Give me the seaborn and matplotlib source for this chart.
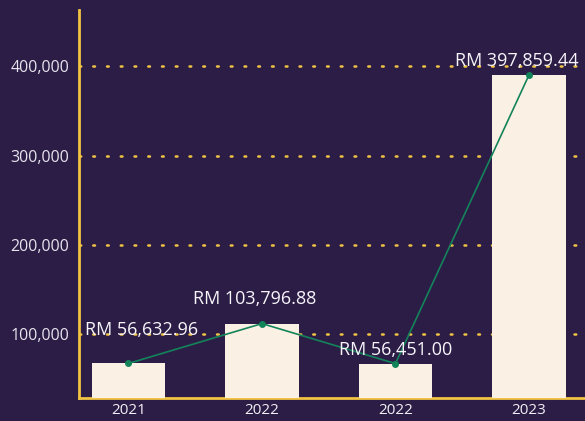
import matplotlib
matplotlib.use("Agg")
import matplotlib.pyplot as plt
import seaborn as sns
import pandas as pd

# values shown on the chart
years = ["2021", "2022", "2022", "2023"]
amounts = [56632.96, 103796.88, 56451.00, 397859.44]
labels = ["RM 56,632.96", "RM 103,796.88", "RM 56,451.00", "RM 397,859.44"]
yticks = [100000, 200000, 300000, 400000]

bg = "#2c1d47"
cream = "#fbf0e4"
green = "#13845a"
gold = "#f2c443"
txt = "#e6e3ec"

sns.set_style("white")
plt.rcParams["font.family"] = ["Open Sans", "DejaVu Sans"]

df = pd.DataFrame({"idx": range(len(amounts)), "amount": amounts})

fig = plt.figure(figsize=(5.85, 4.21), dpi=100, facecolor=bg)
ax = fig.add_axes([0.135, 0.055, 0.865, 0.921])
ax.set_facecolor(bg)

# left axis holds the ticks and dotted grid
ax.set_ylim(28700, 462800)
ax.set_yticks(yticks)
ax.set_yticklabels([f"{v:,}" for v in yticks], color=txt, fontsize=11.5)
for v in yticks:
    ax.axhline(v, color=gold, lw=1.8, ls=(0, (0.7, 4.8)), dash_capstyle="round", zorder=0)
ax.tick_params(axis="y", length=0, pad=7)
for s in ["top", "right"]:
    ax.spines[s].set_visible(False)
for s in ["left", "bottom"]:
    ax.spines[s].set_color(gold)
    ax.spines[s].set_linewidth(2)

# data axis
ax2 = ax.twinx()
ax2.patch.set_visible(False)
sns.barplot(data=df, x="idx", y="amount", color=cream, width=0.55,
            saturation=1, linewidth=0, ax=ax2, zorder=2)
sns.lineplot(x=df["idx"], y=df["amount"], color=green, lw=1.2, marker="o",
             markersize=5, markeredgewidth=0, ax=ax2, zorder=3)
ax2.set_ylim(15917, 474787)
ax2.set_xlim(-0.371, 3.42)
ax2.set_yticks([])
ax2.set_ylabel("")
ax2.set_xlabel("")
for s in ax2.spines.values():
    s.set_visible(False)

ax.set_xlim(-0.371, 3.42)
ax.set_xticks(range(len(years)))
ax.set_xticklabels(years, color="#f2f0f5", fontsize=11)
ax.tick_params(axis="x", length=0, pad=4)
ax2.tick_params(axis="x", length=0, labelbottom=False)

offsets = [(13, 33), (-7, 25), (0, 14), (-12, 14)]
for i, (v, lab) in enumerate(zip(amounts, labels)):
    ax2.annotate(lab, (i, v), xytext=offsets[i], textcoords="offset pixels",
                 ha="center", va="center", color="#f7f5fa", fontsize=13, zorder=5)

fig.savefig("out.png", dpi=100, facecolor=bg)
